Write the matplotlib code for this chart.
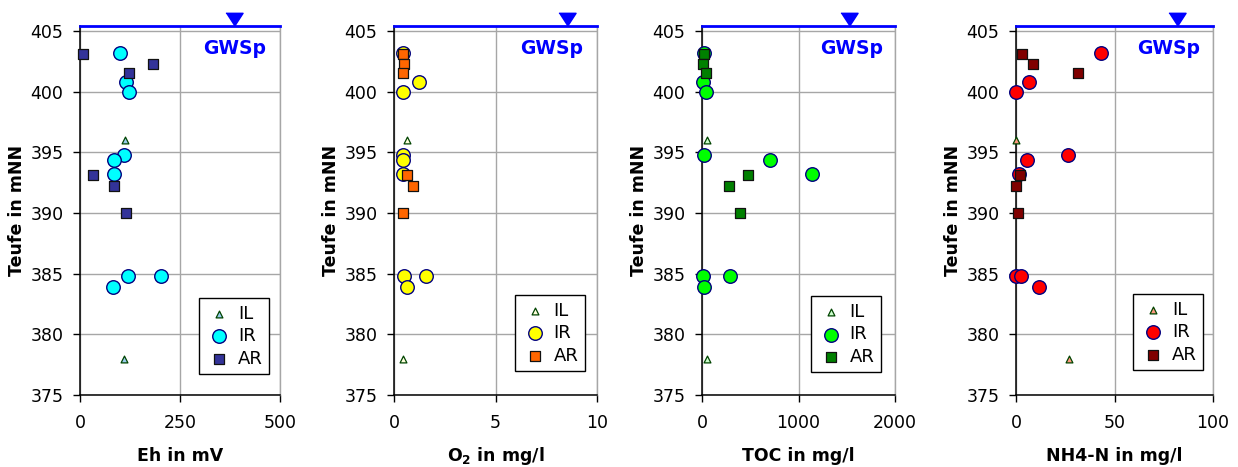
import matplotlib
matplotlib.use("Agg")
import matplotlib.pyplot as plt

# depth (Teufe in mNN) per series
depth_il = [396.0, 378.0]
depth_ir = [403.2, 400.8, 400.0, 394.8, 394.4, 393.2, 384.8, 384.8, 383.9]
depth_ar = [403.1, 402.3, 401.5, 393.1, 392.2, 390.0]

# Eh in mV
eh_il = [113, 111]
eh_ir = [100, 115, 122, 110, 84, 84, 119, 203, 82]
eh_ar = [8, 182, 122, 32, 84, 115]

# O2 in mg/l
o2_il = [0.62, 0.46]
o2_ir = [0.43, 1.23, 0.43, 0.43, 0.43, 0.43, 0.49, 1.57, 0.66]
o2_ar = [0.43, 0.49, 0.43, 0.62, 0.92, 0.43]

# TOC in mg/l
toc_il = [52, 52]
toc_ir = [17, 7, 45, 24, 703, 1138, 7, 293, 17]
toc_ar = [17, 7, 41, 472, 276, 390]

# NH4-N in mg/l
nh4_il = [0.0, 26.8]
nh4_ir = [43.2, 6.8, 0.0, 26.3, 5.4, 1.5, 0.0, 2.5, 11.9]
nh4_ar = [3.0, 8.8, 31.5, 2.0, 0.0, 0.8]

# groundwater level (GWSp) and its marker position per panel
gwsp_level = 405.4
gwsp_x = [385, 8.5, 1520, 81.5]

xlabels = ["Eh in mV", "O$_\\mathbf{2}$ in mg/l", "TOC in mg/l", "NH4-N in mg/l"]
xlims = [500, 10, 2000, 100]
xticks = [[0, 250, 500], [0, 5, 10], [0, 1000, 2000], [0, 50, 100]]
yticks = [375, 380, 385, 390, 395, 400, 405]

panels = [
    (eh_il, eh_ir, eh_ar),
    (o2_il, o2_ir, o2_ar),
    (toc_il, toc_ir, toc_ar),
    (nh4_il, nh4_ir, nh4_ar),
]

il_colors = ["#99CCEE", "#FFFFDD", "#CCFFCC", "#FF9980"]
ir_colors = ["#00FFFF", "#FFFF00", "#00FF00", "#FF0000"]
ar_colors = ["#333399", "#FF6600", "#008000", "#800000"]

lefts = [80, 394, 702, 1016]
widths = [200, 203, 193, 197]
leg_anchor = [(0.945, 0.057), (0.94, 0.065), (0.927, 0.062), (0.95, 0.068)]

W, H = 1238, 467
fig = plt.figure(figsize=(W / 100, H / 100), dpi=100)
plt.rcParams['font.family'] = ['DejaVu Sans']
plt.rcParams['mathtext.default'] = 'bf'

tri_marker = [(-0.65, 1), (0.65, 1), (0, 0)]

for i in range(4):
    ax = fig.add_axes([lefts[i] / W, (H - 395) / H, widths[i] / W, (395 - 26) / H])
    x_il, x_ir, x_ar = panels[i]

    ax.scatter(x_il, depth_il, marker='^', s=24, facecolor=il_colors[i],
               edgecolor='#004400', linewidth=0.9, zorder=3, clip_on=False, label="IL")
    ax.scatter(x_ir, depth_ir, marker='o', s=95, facecolor=ir_colors[i],
               edgecolor='#000080', linewidth=1.0, zorder=4, clip_on=False, label="IR")
    ax.scatter(x_ar, depth_ar, marker='s', s=55, facecolor=ar_colors[i],
               edgecolor='#111111', linewidth=0.9, zorder=5, clip_on=False, label="AR")

    ax.set_xlim(0, xlims[i])
    ax.set_ylim(375, gwsp_level)
    ax.set_xticks(xticks[i])
    ax.set_yticks(yticks)
    ax.grid(True, color='#A6A6A6', linewidth=1.0)
    ax.set_axisbelow(True)

    for side in ['left', 'bottom']:
        ax.spines[side].set_color('black')
        ax.spines[side].set_linewidth(1.1)
    ax.spines['top'].set_visible(False)
    ax.spines['right'].set_color('#A6A6A6')
    ax.spines['right'].set_linewidth(1.0)

    ax.tick_params(axis='x', direction='out', length=5, width=1.0, pad=9, labelsize=12.5)
    ax.tick_params(axis='y', direction='out', length=5, width=1.0, pad=7, labelsize=12.5)

    ax.set_xlabel(xlabels[i], fontsize=12.5, fontweight='bold', va='baseline')
    ax.xaxis.set_label_coords(0.5, -0.178)
    ax.set_ylabel("Teufe in mNN", fontsize=12.5, fontweight='bold', va='center')
    ax.yaxis.set_label_coords(-(lefts[i] - (lefts[i] - 63)) / widths[i], 0.5)

    # groundwater level line and marker
    ax.axhline(gwsp_level, color='#0000FF', linewidth=2.0, clip_on=False, zorder=6)
    ax.plot([gwsp_x[i]], [gwsp_level], marker=tri_marker, markersize=19,
            color='#0000FF', linestyle='none', clip_on=False, zorder=7)
    ax.text(0.775, 0.94, "GWSp", transform=ax.transAxes, ha='center', va='center',
            color='#0000FF', fontsize=13.5, fontweight='bold')

    leg = ax.legend(loc='lower right', bbox_to_anchor=leg_anchor[i], borderaxespad=0,
                    fontsize=13, frameon=True, fancybox=False, framealpha=1,
                    edgecolor='black', handletextpad=0.3, handlelength=1.5,
                    borderpad=0.35, labelspacing=0.25, scatterpoints=1)
    leg.get_frame().set_linewidth(1.0)

fig.savefig("out.png", dpi=100)
